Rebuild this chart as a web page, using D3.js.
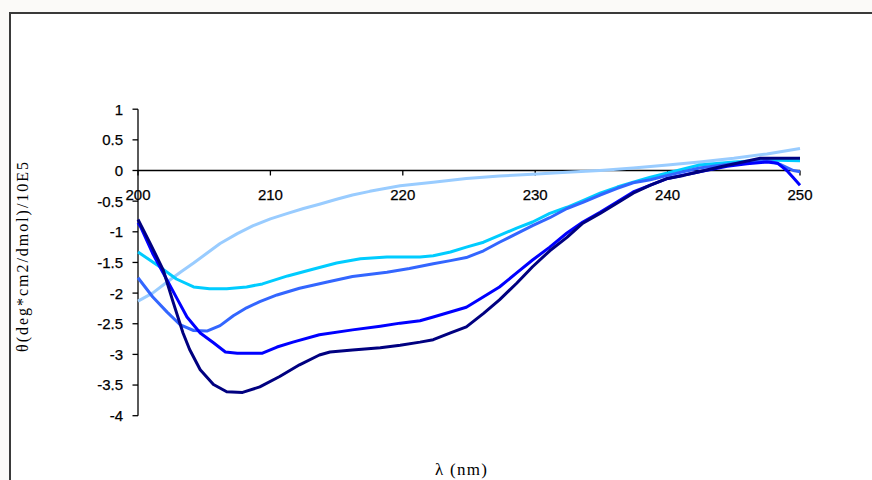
<!DOCTYPE html>
<html>
<head>
<meta charset="utf-8">
<script src="https://cdn.jsdelivr.net/npm/d3@7"></script>
<style>
  html, body { margin: 0; padding: 0; background: #fbfaf8; }
  svg { display: block; }
</style>
</head>
<body>
<svg id="chart" width="872" height="480"></svg>
<script>
// CD spectra: mean residue ellipticity vs wavelength, five samples.
// Each curve is a list of [wavelength (nm), theta / 1e5] pairs.
const wavelengthTicks = [200, 210, 220, 230, 240, 250];
const thetaTicks = [1, 0.5, 0, -0.5, -1, -1.5, -2, -2.5, -3, -3.5, -4];

const curveLight = [
  [200, -2.13], [201.1, -2.0], [202.2, -1.82], [203.2, -1.66], [204.2, -1.51],
  [205.2, -1.35], [206.2, -1.19], [207.5, -1.03], [208.7, -0.9], [210, -0.79],
  [211.3, -0.7], [212.5, -0.62], [213.7, -0.55], [215, -0.47], [216.2, -0.4],
  [217.5, -0.34], [219.8, -0.25], [222.3, -0.19], [224.8, -0.13], [227.3, -0.09],
  [229.8, -0.06], [232.4, -0.03], [234.9, 0.0], [237.4, 0.04], [240, 0.09],
  [242.4, 0.14], [245, 0.2], [247.5, 0.27], [250, 0.36]
];

const curveCyan = [
  [200, -1.33], [201.7, -1.58], [202.9, -1.77], [204.2, -1.9], [205.4, -1.93],
  [206.7, -1.93], [208.2, -1.9], [209.4, -1.85], [211.3, -1.72], [213.2, -1.61],
  [215, -1.51], [216.8, -1.44], [218.8, -1.41], [221.3, -1.41], [222.3, -1.39],
  [223.6, -1.33], [224.8, -1.25], [226.1, -1.17], [227.3, -1.06], [228.6, -0.94],
  [229.8, -0.84], [231.1, -0.7], [232.4, -0.6], [233.6, -0.49], [234.9, -0.37],
  [236.2, -0.27], [237.4, -0.19], [238.7, -0.11], [240, -0.04], [242.4, 0.09],
  [245, 0.14], [247.5, 0.17], [250, 0.16]
];

const curveMedium = [
  [200, -1.75], [201.1, -2.06], [202.2, -2.31], [203.2, -2.52], [204.2, -2.61],
  [205.2, -2.62], [206.2, -2.53], [207.2, -2.37], [208.2, -2.24], [209.2, -2.14],
  [210.5, -2.03], [212.2, -1.92], [214.3, -1.82], [216.2, -1.73], [218.8, -1.66],
  [220.5, -1.6], [222.3, -1.52], [223.6, -1.47], [224.8, -1.42], [226.1, -1.31],
  [227.3, -1.17], [228.6, -1.03], [229.8, -0.9], [231.1, -0.77], [232.4, -0.62],
  [233.6, -0.52], [234.9, -0.4], [236.2, -0.29], [237.4, -0.2], [238.7, -0.15],
  [240, -0.08], [242.4, 0.04], [244.5, 0.1], [247.5, 0.17], [248.5, 0.1],
  [249.5, 0.0], [250, -0.02]
];

const curveBlue = [
  [200, -0.85], [200.2, -0.92], [201.1, -1.35], [202.2, -1.79], [203, -2.11],
  [203.7, -2.39], [204.7, -2.65], [205.7, -2.81], [206.6, -2.96], [207.5, -2.98],
  [209.4, -2.98], [210.5, -2.88], [211.7, -2.8], [213.7, -2.68], [216.2, -2.6],
  [218.3, -2.54], [219.8, -2.49], [221.3, -2.45], [222.3, -2.39], [224.8, -2.23],
  [226.1, -2.06], [227.3, -1.9], [228.6, -1.67], [229.8, -1.46], [231.1, -1.25],
  [232.4, -1.02], [233.6, -0.84], [234.9, -0.68], [236.2, -0.51], [237.4, -0.35],
  [238.7, -0.24], [240, -0.13], [242.4, -0.02], [244.5, 0.07], [246, 0.11],
  [247.5, 0.14], [248.3, 0.12], [249, 0.0], [249.5, -0.12], [250, -0.24]
];

const curveNavy = [
  [200, -0.8], [200.9, -1.18], [201.9, -1.62], [202.6, -2.11], [203.4, -2.65],
  [203.9, -2.92], [204.7, -3.25], [205.7, -3.49], [206.7, -3.61], [207.9, -3.62],
  [209.2, -3.53], [210.7, -3.36], [212.2, -3.17], [213.7, -3.01], [214.5, -2.96],
  [216.2, -2.93], [218.3, -2.89], [219.8, -2.85], [221.3, -2.8], [222.3, -2.76],
  [223.6, -2.65], [224.8, -2.55], [226.1, -2.33], [227.3, -2.11], [228.6, -1.84],
  [229.8, -1.57], [231.1, -1.31], [232.4, -1.09], [233.6, -0.86], [234.9, -0.7],
  [236.2, -0.53], [237.4, -0.37], [238.7, -0.24], [240, -0.13], [241.2, -0.08],
  [242.4, -0.02], [244, 0.06], [245.5, 0.13], [247, 0.2], [248.5, 0.2], [250, 0.2]
];

const curves = [curveLight, curveCyan, curveMedium, curveBlue, curveNavy];
const curveColors = ["#99ccff", "#00ccff", "#3366ff", "#0000ff", "#000080"];

const svg = d3.select("#chart");

// chart frame
svg.append("rect")
  .attr("x", 10).attr("y", 13)
  .attr("width", 900).attr("height", 500)
  .attr("fill", "#ffffff")
  .attr("stroke", "#3a3a3a")
  .attr("stroke-width", 2);

const x = d3.scaleLinear().domain([200, 250]).range([138, 800]);
const y = d3.scaleLinear().domain([-4, 1]).range([415.7, 109.2]);

const tickFont = "'Liberation Sans', Arial, sans-serif";
const titleFont = "'Liberation Serif', 'Times New Roman', serif";

// y axis
const yAxis = svg.append("g");
yAxis.append("line")
  .attr("x1", x(200)).attr("x2", x(200))
  .attr("y1", y(1)).attr("y2", y(-4))
  .attr("stroke", "#000").attr("stroke-width", 1.3);
yAxis.selectAll("line.tick").data(thetaTicks).join("line")
  .attr("class", "tick")
  .attr("x1", x(200) - 5.5).attr("x2", x(200))
  .attr("y1", d => y(d)).attr("y2", d => y(d))
  .attr("stroke", "#000").attr("stroke-width", 1.3);
yAxis.selectAll("text").data(thetaTicks).join("text")
  .attr("x", 123)
  .attr("y", d => y(d))
  .attr("dy", "0.36em")
  .attr("text-anchor", "end")
  .attr("font-family", tickFont)
  .attr("font-size", 15)
  .attr("fill", "#000")
  .attr("stroke", "#000")
  .attr("stroke-width", 0.25)
  .text(d => String(d));

// x axis along theta = 0
const xAxis = svg.append("g");
xAxis.append("line")
  .attr("x1", x(200)).attr("x2", x(250))
  .attr("y1", y(0)).attr("y2", y(0))
  .attr("stroke", "#000").attr("stroke-width", 1.3);
xAxis.selectAll("line.tick").data(wavelengthTicks).join("line")
  .attr("class", "tick")
  .attr("x1", d => x(d)).attr("x2", d => x(d))
  .attr("y1", y(0)).attr("y2", y(0) + 5)
  .attr("stroke", "#000").attr("stroke-width", 1.3);
xAxis.selectAll("text").data(wavelengthTicks).join("text")
  .attr("x", d => x(d))
  .attr("y", 200)
  .attr("text-anchor", "middle")
  .attr("font-family", tickFont)
  .attr("font-size", 15)
  .attr("fill", "#000")
  .attr("stroke", "#000")
  .attr("stroke-width", 0.25)
  .text(d => String(d));

// spectra
const line = d3.line()
  .x(d => x(d[0]))
  .y(d => y(d[1]))
  .curve(d3.curveLinear);

svg.append("g").selectAll("path").data(curves).join("path")
  .attr("d", line)
  .attr("fill", "none")
  .attr("stroke", (d, i) => curveColors[i])
  .attr("stroke-width", 3)
  .attr("stroke-linejoin", "round")
  .attr("stroke-linecap", "butt");

// axis titles
svg.append("text")
  .attr("transform", "translate(28,257) rotate(-90)")
  .attr("text-anchor", "middle")
  .attr("font-family", titleFont)
  .attr("font-size", 16)
  .attr("textLength", 190)
  .attr("lengthAdjust", "spacing")
  .attr("fill", "#000")
  .text("θ(deg*cm2/dmol)/10E5");

svg.append("text")
  .attr("x", 461)
  .attr("y", 475)
  .attr("text-anchor", "middle")
  .attr("font-family", titleFont)
  .attr("font-size", 17)
  .attr("textLength", 52)
  .attr("lengthAdjust", "spacing")
  .attr("fill", "#000")
  .text("λ (nm)");
</script>
</body>
</html>
